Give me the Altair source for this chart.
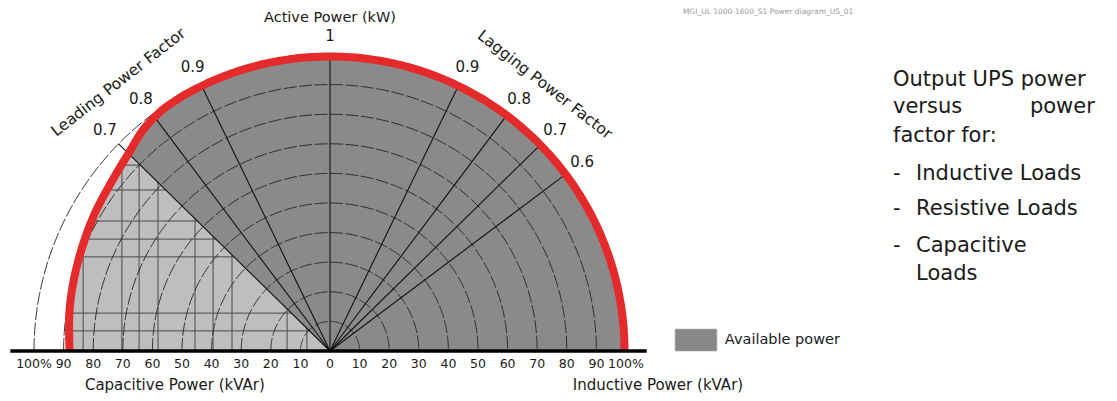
import numpy as np
import pandas as pd
import altair as alt

# ---------------- data ----------------
tick_values = [-100, -90, -80, -70, -60, -50, -40, -30, -20, -10, 0,
               10, 20, 30, 40, 50, 60, 70, 80, 90, 100]
tick_labels = ["100%", "90", "80", "70", "60", "50", "40", "30", "20", "10", "0",
               "10", "20", "30", "40", "50", "60", "70", "80", "90", "100%"]
lagging_pf = [0.9, 0.8, 0.7, 0.6]
leading_pf = [0.9, 0.8, 0.7]
arc_radii = [10, 20, 30, 40, 50, 60, 70, 80, 90]
rated_radius = 99.5
outer_radius = 100
# capacitive-side limit of available power: angle from vertical (deg) and radius (% rated)
cap_angle = [30, 35, 40, 45.6, 50, 60, 70, 80, 90]
cap_radius = [99.5, 99.2, 97.9, 95.3, 93.9, 92.0, 90.4, 89.2, 88.0]
# rectangular grid drawn inside the light-grey (leading, PF < 0.7) zone
grid_x = [-83.4, -70.3, -64.5, -58.1, -45.6, -39.5, -33.1, -14.5, -7.8]
grid_y = [62.8, 54.4, 43.9, 37.8, 31.8, 12.8, 6.8]

side_texts = ["Output UPS power", "versus", "power", "factor for:",
              "-", "Inductive Loads", "-", "Resistive Loads", "-", "Capacitive", "Loads"]

# ---------------- geometry helpers ----------------
X_DOM = [-108.784, 263.176]
Y_DOM = [-14.189, 115.878]
FONT = "DejaVu Sans"
INK = "#1a1a1a"
RED = "#E42A2A"
DARK = "#8A8A8A"
LIGHT = "#BEBEBE"


def X(field="x", t="Q"):
    return alt.X(f"{field}:{t}", scale=alt.Scale(domain=X_DOM, nice=False, zero=False), axis=None)


def Y(field="y", t="Q"):
    return alt.Y(f"{field}:{t}", scale=alt.Scale(domain=Y_DOM, nice=False, zero=False), axis=None)


def polar(r, phi_deg):
    p = np.radians(phi_deg)
    return r * np.sin(p), r * np.cos(p)


tan07 = np.tan(np.arccos(0.7))

# boundary of available power, from inductive baseline round to capacitive baseline
circ_phi = np.arange(90, -30, -1.0)
b_phi = list(circ_phi) + [-a for a in cap_angle]
b_r = [rated_radius] * len(circ_phi) + cap_radius
bx, by = polar(np.array(b_r), np.array(b_phi))
boundary = pd.DataFrame({"x": bx, "y": by, "i": np.arange(len(bx))})

# capacitive part of boundary for clipping
cx, cy = polar(np.array(cap_radius), -np.array(cap_angle))
order_x = np.argsort(cx)
order_y = np.argsort(cy)

# light zone (left of PF 0.7 leading line)
light_rows = []
for a, r in zip(cap_angle, cap_radius):
    if a >= 45.6:
        x, y = polar(r, -a)
        light_rows.append({"y": y, "x": x, "x2": -y * tan07})
light = pd.DataFrame(light_rows)

grid_rows = []
for gx in grid_x:
    top = min(-gx / tan07, float(np.interp(gx, cx[order_x], cy[order_x])))
    grid_rows.append({"x": gx, "x2": gx, "y": 0.0, "y2": top})
for gy in grid_y:
    left = float(np.interp(gy, cy[order_y], cx[order_y]))
    grid_rows.append({"x": left, "x2": -gy * tan07, "y": gy, "y2": gy})
grid = pd.DataFrame(grid_rows)

# concentric arcs
arc_rows = []
for r in arc_radii:
    for k, ph in enumerate(np.arange(-90, 90.5, 1.0)):
        x, y = polar(r, ph)
        arc_rows.append({"r": r, "i": k, "x": x, "y": y})
for k, ph in enumerate(np.arange(-90, -27, 1.0)):
    x, y = polar(outer_radius, ph)
    arc_rows.append({"r": outer_radius, "i": k, "x": x, "y": y})
arcs = pd.DataFrame(arc_rows)

# radial power-factor lines
rad_rows = []
for pf, sign in [(1.0, 1)] + [(p, 1) for p in lagging_pf] + [(p, -1) for p in leading_pf]:
    phi = sign * np.degrees(np.arccos(pf))
    x, y = polar(outer_radius, phi)
    rad_rows.append({"x": 0.0, "y": 0.0, "x2": x, "y2": y})
radials = pd.DataFrame(rad_rows)

# power-factor labels
pf_rows = [{"t": "1", "phi": 0.0}]
pf_rows += [{"t": f"{p:.1f}", "phi": np.degrees(np.arccos(p))} for p in lagging_pf]
pf_rows += [{"t": f"{p:.1f}", "phi": -np.degrees(np.arccos(p))} for p in leading_pf]
pf_df = pd.DataFrame(pf_rows)
pf_df["x"], pf_df["y"] = polar(106.5, pf_df["phi"].values)

ticks = pd.DataFrame({"x": tick_values, "t": tick_labels, "y": -4.4})


def text_layer(df, size, align="center", baseline="middle", angle=0, color=INK):
    kw = dict(font=FONT, fontSize=size, align=align, baseline=baseline, color=color)
    if angle:
        kw["angle"] = angle
    return alt.Chart(df).mark_text(**kw).encode(x=X(), y=Y(), text="t:N")


layers = []
layers.append(alt.Chart(boundary).mark_area(color=DARK, interpolate="catmull-rom")
              .encode(x=X(), y=Y(), y2=alt.datum(0)))
layers.append(alt.Chart(light).mark_area(color=LIGHT, orient="horizontal", interpolate="catmull-rom")
              .encode(y=Y(), x=X(), x2="x2:Q"))
layers.append(alt.Chart(grid).mark_rule(color="#4a4a4a", strokeWidth=1)
              .encode(x=X(), y=Y(), x2="x2:Q", y2="y2:Q"))
layers.append(alt.Chart(arcs).mark_line(color="#222222", strokeWidth=0.9, strokeDash=[13, 2.5])
              .encode(x=X(), y=Y(), detail="r:N", order="i:Q"))
layers.append(alt.Chart(radials).mark_rule(color="#111111", strokeWidth=1.1)
              .encode(x=X(), y=Y(), x2="x2:Q", y2="y2:Q"))
layers.append(alt.Chart(boundary).mark_line(color=RED, strokeWidth=8, interpolate="catmull-rom")
              .encode(x=X(), y=Y(), order="i:Q"))
layers.append(alt.Chart(pd.DataFrame({"x": [-108.0], "x2": [107.0], "y": [0.0]}))
              .mark_rule(color="#000000", strokeWidth=3.5)
              .encode(x=X(), x2="x2:Q", y=Y()))

# texts
layers.append(text_layer(ticks, 12.5))
layers.append(text_layer(pf_df, 15))
layers.append(text_layer(pd.DataFrame({"t": ["Active Power (kW)"], "x": [0.0], "y": [112.5]}), 14.5))
layers.append(text_layer(pd.DataFrame({"t": ["Lagging Power Factor"], "x": [72.6], "y": [90.0]}), 15.5, angle=38))
layers.append(text_layer(pd.DataFrame({"t": ["Leading Power Factor"], "x": [-71.5], "y": [90.8]}), 15.5, angle=322))
layers.append(text_layer(pd.DataFrame({"t": ["Capacitive Power (kVAr)", "Inductive Power (kVAr)"],
                                       "x": [-52.4, 110.8], "y": [-11.5, -11.5]}), 15))
layers.append(text_layer(pd.DataFrame({"t": ["MGI_UL 1000-1600_S1 Power diagram_US_01"],
                                       "x": [148.0], "y": [115.8]}), 7.5, baseline="top", color="#9a9a9a"))

# legend
layers.append(alt.Chart(pd.DataFrame({"x": [116.6], "x2": [130.7], "y": [0.0], "y2": [7.4]}))
              .mark_rect(color="#888888", stroke="#aaaaaa", strokeWidth=0.6)
              .encode(x=X(), x2="x2:Q", y=Y(), y2="y2:Q"))
layers.append(text_layer(pd.DataFrame({"t": ["Available power"], "x": [133.4], "y": [3.7]}), 14.5, align="left"))

# side description
side_left = pd.DataFrame({
    "t": [side_texts[0], side_texts[1], side_texts[3], side_texts[4], side_texts[5],
          side_texts[6], side_texts[7], side_texts[8], side_texts[9], side_texts[10]],
    "x": [190.2, 190.2, 190.2, 190.2, 198.0, 190.2, 198.0, 190.2, 198.0, 198.0],
    "y": [89.5, 80.3, 70.7, 57.8, 57.8, 45.9, 45.9, 33.5, 33.5, 24.0],
})
layers.append(text_layer(side_left, 21, align="left", baseline="alphabetic"))
layers.append(text_layer(pd.DataFrame({"t": [side_texts[2]], "x": [258.4], "y": [80.3]}), 21,
                         align="right", baseline="alphabetic"))

chart = alt.layer(*layers).properties(
    width=1101, height=385,
    autosize=alt.AutoSizeParams(type="none"),
    padding=0,
    background="white",
).configure_view(stroke=None)

chart.save("out.html", embed_options={"renderer": "svg", "actions": False})
